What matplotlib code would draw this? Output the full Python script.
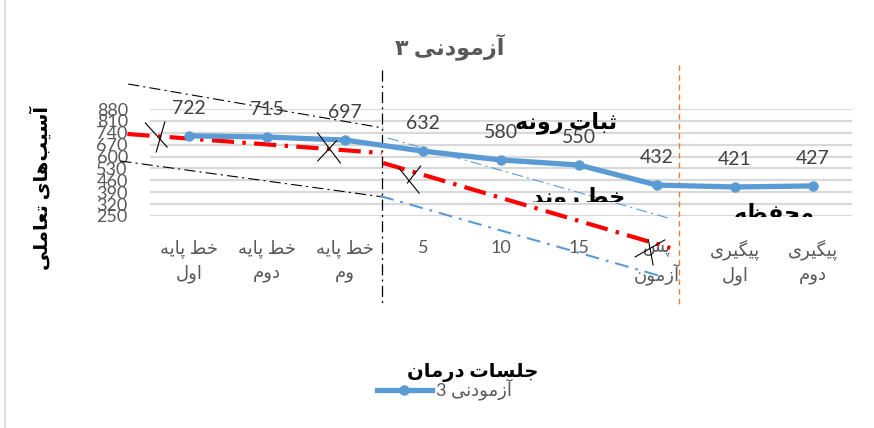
import matplotlib
matplotlib.use('Agg')
import matplotlib.pyplot as plt
from matplotlib.lines import Line2D
from matplotlib.transforms import Bbox, TransformedBbox

plt.rcParams['font.family'] = ['Lato', 'DejaVu Sans']
plt.rcParams['lines.scale_dashes'] = False

# --- data ---
categories = ['خط پایه\nاول', 'خط پایه\nدوم', 'خط پایه\nوم', '5', '10', '15',
              'پس\nآزمون', 'پیگیری\nاول', 'پیگیری\nدوم']
values = [722, 715, 697, 632, 580, 550, 432, 421, 427]
yticks = [250, 320, 390, 460, 530, 600, 670, 740, 810, 880]
title = 'آزمودنی ۳'
ylabel = 'آسیب\u200cهای تعاملی'
xlabel = 'جلسات درمان'
series_name = 'آزمودنی 3'

# hand-drawn analysis lines (data coords: category index, value)
baseline_trend = ([-0.79, 2.47], [733, 621])
treat_trend = ([2.49, 6.17], [562, 62])
base_upper = ([-0.78, 2.49], [1027, 768])
base_lower = ([-0.88, 2.49], [574, 362])
treat_upper = ([2.55, 6.19], [709, 232])
treat_lower = ([2.45, 6.04], [368, -103])
phase1_x = 2.47
phase2_x = 6.28
crosses = [
    [([-0.56, -0.28], [798, 656]), ([-0.31, -0.42], [804, 627])],
    [([1.65, 1.94], [739, 562]), ([1.89, 1.65], [692, 574])],
    [([2.69, 2.95], [533, 385]), ([2.97, 2.80], [544, 444])],
    [([5.72, 6.10], [9, 109]), ([5.89, 5.95], [109, -38])],
]

# --- minimal Persian shaping (presentation forms + RTL) ---
FORMS = {
    'ا': ('\uFE8D', '\uFE8E', None, None), 'آ': ('\uFE81', '\uFE82', None, None),
    'ب': ('\uFE8F', '\uFE90', '\uFE91', '\uFE92'), 'پ': ('\uFB56', '\uFB57', '\uFB58', '\uFB59'),
    'ت': ('\uFE95', '\uFE96', '\uFE97', '\uFE98'), 'ث': ('\uFE99', '\uFE9A', '\uFE9B', '\uFE9C'),
    'ج': ('\uFE9D', '\uFE9E', '\uFE9F', '\uFEA0'), 'ح': ('\uFEA1', '\uFEA2', '\uFEA3', '\uFEA4'),
    'خ': ('\uFEA5', '\uFEA6', '\uFEA7', '\uFEA8'), 'د': ('\uFEA9', '\uFEAA', None, None),
    'ر': ('\uFEAD', '\uFEAE', None, None), 'ز': ('\uFEAF', '\uFEB0', None, None),
    'س': ('\uFEB1', '\uFEB2', '\uFEB3', '\uFEB4'), 'ط': ('\uFEC1', '\uFEC2', '\uFEC3', '\uFEC4'),
    'ظ': ('\uFEC5', '\uFEC6', '\uFEC7', '\uFEC8'), 'ع': ('\uFEC9', '\uFECA', '\uFECB', '\uFECC'),
    'ف': ('\uFED1', '\uFED2', '\uFED3', '\uFED4'), 'گ': ('\uFB92', '\uFB93', '\uFB94', '\uFB95'),
    'ل': ('\uFEDD', '\uFEDE', '\uFEDF', '\uFEE0'), 'م': ('\uFEE1', '\uFEE2', '\uFEE3', '\uFEE4'),
    'ن': ('\uFEE5', '\uFEE6', '\uFEE7', '\uFEE8'), 'ه': ('\uFEE9', '\uFEEA', '\uFEEB', '\uFEEC'),
    'و': ('\uFEED', '\uFEEE', None, None), 'ی': ('\uFBFC', '\uFBFD', '\uFBFE', '\uFBFF'),
}


def shape_line(s):
    if not any(c in FORMS for c in s):
        return s
    out = []
    for i, c in enumerate(s):
        if c not in FORMS:
            out.append(c)
            continue
        prev = s[i - 1] if i > 0 else ''
        nxt = s[i + 1] if i + 1 < len(s) else ''
        jp = prev in FORMS and FORMS[prev][2] is not None
        jn = FORMS[c][2] is not None and nxt in FORMS
        iso, fin, ini, med = FORMS[c]
        out.append(med if jp and jn else fin if jp else ini if jn else iso)
    return ''.join(out).replace('\u200c', '')[::-1]


def fa(s):
    return '\n'.join(shape_line(l) for l in s.split('\n'))


W, H = 874, 428
fig = plt.figure(figsize=(W / 100, H / 100), dpi=100)
ax = fig.add_axes([150 / W, (H - 216) / H, 702 / W, 107 / H])

x = list(range(len(values)))
grey = '#595959'
ax.set_xlim(-0.5, len(values) - 0.5)
ax.set_ylim(250, 880)
ax.set_yticks(yticks)
ax.yaxis.grid(True, color='#D9D9D9', linewidth=1.6)
ax.set_axisbelow(True)
for s in ax.spines.values():
    s.set_visible(False)
ax.set_xticks(x)
ax.set_xticklabels([fa(c) for c in categories], fontsize=13, color=grey, linespacing=1.45)
ax.tick_params(axis='x', length=0, pad=17)
ax.tick_params(axis='y', length=0, pad=16, labelsize=13, labelcolor=grey)

ax.plot(x, values, color='#5B9BD5', linewidth=3.8, marker='o', markersize=6.5, zorder=5)
for xi, v in zip(x, values):
    ax.annotate(str(v), (xi, v), xytext=(0, 20), textcoords='offset points',
                ha='center', va='center', fontsize=14, color='#404040', zorder=6)

kw = dict(clip_on=False)
ax.plot(*baseline_trend, color='#FF0000', linewidth=3, dashes=(16, 6, 2.5, 6), **kw)
ax.plot(*treat_trend, color='#FF0000', linewidth=3, dashes=(16, 6, 2.5, 6), **kw)
ax.plot(*base_upper, color='black', linewidth=0.8, dashes=(8, 3, 1.5, 3), **kw)
ax.plot(*base_lower, color='black', linewidth=0.8, dashes=(8, 3, 1.5, 3), **kw)
ax.plot(*treat_upper, color='#5B9BD5', linewidth=0.8, dashes=(8, 3, 1.5, 3), **kw)
ax.plot(*treat_lower, color='#5B9BD5', linewidth=1.5, dashes=(10, 5, 2, 5), **kw)
ax.plot([phase1_x, phase1_x], [1110, -274], color='black', linewidth=0.9, dashes=(8, 3, 1.5, 3), **kw)
ax.plot([phase2_x, phase2_x], [1139, -274], color='#ED7D31', linewidth=1.0, dashes=(4, 3), **kw)
for seg in crosses:
    for sx, sy in seg:
        ax.plot(sx, sy, color='black', linewidth=0.8, zorder=7, **kw)

# text boxes (partly clipped like the original)
ax.text(4.83, 800, fa('ثبات رونه'), ha='center', va='center', fontsize=16,
        fontweight='bold', color='black', zorder=8, clip_on=False)
t = ax.text(5.0, 360, fa('خط روند'), ha='center', va='center', fontsize=16,
            fontweight='bold', color='black', zorder=8, clip_on=True)
t.set_clip_box(TransformedBbox(Bbox([[3.5, 332], [7.0, 900]]), ax.transData))
t2 = ax.text(7.5, 262, fa('محفظه'), ha='center', va='center', fontsize=16,
             fontweight='bold', color='black', zorder=8, clip_on=True)
t2.set_clip_box(TransformedBbox(Bbox([[6.5, 245], [8.5, 900]]), ax.transData))

fig.text(450 / W, 1 - 47 / H, fa(title), ha='center', va='center', fontsize=16,
         fontweight='bold', color=grey)
fig.text(40 / W, 1 - 188 / H, fa(ylabel), ha='center', va='center', fontsize=14,
         fontweight='bold', color='black', rotation=90)
fig.text(473 / W, 1 - 373 / H, fa(xlabel), ha='center', va='center', fontsize=14,
         fontweight='bold', color='black')
fig.add_artist(Line2D([377 / W, 432 / W], [1 - 390 / H] * 2, color='#5B9BD5',
                      linewidth=3.8))
fig.add_artist(Line2D([404 / W], [1 - 390 / H], color='#5B9BD5', marker='o',
                      markersize=6.5, linestyle='none'))
fig.text(436 / W, 1 - 389 / H, fa(series_name), ha='left', va='center', fontsize=13,
         color=grey)
fig.add_artist(Line2D([5 / W, 5 / W], [0, 1], color='#D9D9D9', linewidth=1.2))

fig.savefig('out.png', dpi=100)
